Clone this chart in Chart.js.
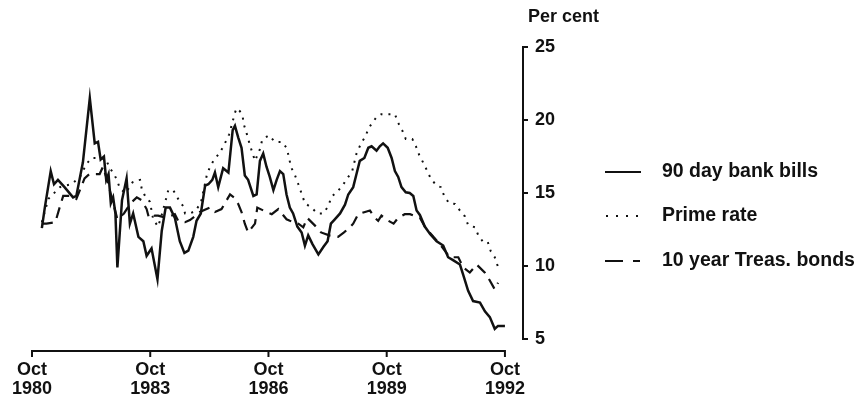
<!DOCTYPE html>
<html>
<head>
<title>Interest rates 1980-1992</title>
<script src="https://cdn.jsdelivr.net/npm/chart.js"></script>
<style>
  body { margin: 0; background: #fff; }
  #wrap { width: 861px; height: 401px; }
</style>
</head>
<body>
<div id="wrap"><canvas id="ratesChart"></canvas></div>
<script>
// months counted from October 1980
const tickMonths = [0, 36, 72, 108, 144];
const tickYears = ['1980', '1983', '1986', '1989', '1992'];
const yTicks = [5, 10, 15, 20, 25];
const seriesNames = ['90 day bank bills', 'Prime rate', '10 year Treas. bonds'];

const billsMonths = [3, 3.9, 5.7, 6.7, 7.9, 9.9, 12.5, 13.5, 15.5, 17.6, 19.1, 20.1, 20.9, 21.9, 22.6, 23.3, 24, 24.7, 25.4, 26,
  27.4, 28.8, 29.8, 30.8, 32.4, 33.9, 34.9, 36.4, 38.2, 39.5, 40.7, 42, 43.5, 45, 46.4, 47.6, 49.1, 50.1, 51.4, 52.7,
  53.7, 54.9, 55.7, 56.7, 58.2, 59.8, 61.1, 61.8, 62.8, 63.8, 64.8, 65.8, 67.4, 68.4, 69.4, 70.4, 71.4, 72.4, 73.5, 74.5,
  75.5, 76.5, 77.5, 78.5, 79.5, 80.8, 82.1, 83.1, 84.1, 85.4, 87.2, 88.7, 90, 91, 92.2, 93.8, 95.3, 96.3, 97.8, 98.8,
  99.8, 101.2, 102.4, 103.4, 104.9, 105.9, 106.9, 108.3, 109.5, 110.5, 111.5, 112.5, 113.8, 115, 116.1, 117.1, 118.1, 119.6, 121.2, 123.2,
  125.2, 126.7, 128.2, 130.3, 131.3, 132.8, 134.3, 136.4, 137.9, 139.4, 140.9, 141.9, 144];
const billsRates = [12.6, 14.0, 16.5, 15.6, 15.9, 15.4, 14.7, 14.8, 17.1, 21.5, 18.4, 18.5, 17.3, 17.5, 15.9, 16.3, 14.3, 14.7, 13.6, 9.9,
  14.5, 16.0, 12.9, 13.6, 12.0, 11.7, 10.7, 11.2, 9.1, 12.4, 14.0, 14.0, 13.3, 11.7, 10.9, 11.05, 12.0, 13.1, 13.6, 15.5,
  15.6, 15.9, 16.4, 15.4, 16.7, 16.4, 19.3, 19.6, 18.8, 18.1, 16.2, 15.9, 14.8, 14.9, 17.2, 17.7, 16.8, 16.1, 15.2, 15.9,
  16.5, 16.3, 14.9, 14.0, 13.6, 12.7, 12.3, 11.4, 12.1, 11.5, 10.8, 11.3, 11.7, 12.9, 13.2, 13.6, 14.2, 14.9, 15.4, 16.3,
  17.2, 17.4, 18.1, 18.2, 17.9, 18.2, 18.4, 18.1, 17.4, 16.5, 16.1, 15.4, 15.05, 15.0, 14.8, 13.8, 13.5, 12.7, 12.2, 11.7,
  11.4, 10.6, 10.4, 10.1, 9.4, 8.3, 7.6, 7.5, 6.9, 6.5, 5.7, 5.9, 5.9];

const primeMonths = [3, 5, 8.5, 10, 12, 14.6, 16.6, 18.2, 20.5, 22.5, 23.7, 25, 26, 26.8, 28.5, 30.8, 32.9, 33.4, 34.4, 35.9,
  36.9, 38.4, 39.5, 40.7, 41.5, 43, 44.5, 46, 46.6, 48, 49.6, 51.4, 53.2, 54.2, 55.5, 57, 58.3, 60, 61.1, 61.8,
  62.3, 63.3, 64.1, 64.5, 65.4, 66.2, 66.9, 67.9, 69.4, 70.1, 72.1, 74, 76, 77.5, 78.3, 78.8, 80.1, 81.1, 82.1, 83.1,
  85.1, 86.9, 88.7, 90.2, 91.2, 92.8, 94.5, 96, 97.5, 98.8, 100.2, 101.6, 102.4, 103.6, 104.9, 106.4, 108.5, 110.5, 111.5, 112.7,
  113.8, 115.8, 116.9, 117.9, 119.3, 121.4, 123.2, 124.5, 125.5, 127, 128.8, 130.3, 131.8, 132.8, 134.9, 135.9, 137.2, 138.7, 139.7, 140.9,
  141.8];
const primeRates = [13.0, 14.6, 15.4, 15.5, 15.6, 16.1, 17.0, 17.4, 17.4, 17.3, 16.7, 16.3, 15.8, 15.3, 15.0, 15.8, 15.9, 15.3, 14.8, 14.4,
  13.2, 12.7, 13.5, 14.5, 15.2, 15.2, 14.6, 14.1, 13.6, 13.6, 13.75, 14.3, 16.2, 16.8, 17.3, 17.7, 18.2, 19.0, 19.9, 20.5,
  20.8, 20.6, 20.3, 19.7, 19.05, 18.4, 17.9, 17.2, 18.0, 18.65, 18.95, 18.5, 18.5, 18.1, 17.4, 16.8, 16.2, 15.6, 14.95, 14.3,
  14.0, 13.6, 13.6, 14.1, 14.75, 15.05, 15.5, 16.0, 16.5, 17.7, 18.4, 18.9, 19.4, 19.8, 20.2, 20.4, 20.4, 20.4, 19.8, 19.3,
  18.7, 18.7, 18.2, 17.6, 17.0, 16.0, 15.5, 15.4, 14.8, 14.3, 14.25, 13.8, 13.4, 12.8, 12.65, 12.1, 11.7, 11.7, 11.0, 10.6,
  10.0];

const bondMonths = [3, 4.4, 7.1, 8.4, 9.5, 12, 13.5, 16, 17.5, 19.6, 20.6, 21.6, 23, 24.5, 26, 28, 30, 31.9, 33.4, 34.9,
  35.6, 37.4, 38.4, 41, 43.5, 44.5, 46.6, 48.1, 49.6, 51.1, 54.2, 55.7, 57.7, 60.3, 61.5, 62.8, 63.8, 64.8, 65.8, 67.9,
  68.6, 71.4, 73, 75, 77.5, 78.5, 81.1, 82.6, 83.8, 86.7, 88, 90.5, 93.2, 95, 96.8, 97.8, 99.3, 101.4, 102.9, 104.4,
  105.4, 106.4, 108.5, 110.1, 111.5, 113.5, 115.1, 118.1, 119.6, 122.2, 124.2, 126.2, 127.2, 129.8, 131.3, 133.3, 135.4, 137.9, 138.9, 140.9,
  141.9];
const bondRates = [12.9, 12.9, 13.0, 14.0, 14.8, 14.8, 14.6, 16.0, 16.3, 16.3, 16.3, 16.8, 15.8, 14.5, 13.2, 13.6, 14.3, 14.7, 14.5, 13.9,
  13.3, 13.45, 13.45, 13.3, 13.55, 13.1, 13.0, 13.15, 13.4, 13.7, 14.0, 13.7, 13.9, 14.9, 14.7, 14.25, 13.7, 12.9, 12.3, 12.9,
  14.0, 13.7, 13.55, 13.9, 13.2, 13.1, 12.9, 12.65, 13.3, 12.65, 12.3, 12.1, 12.0, 12.3, 12.65, 12.9, 13.55, 13.7, 13.8, 13.3,
  13.1, 13.45, 13.1, 12.9, 13.3, 13.55, 13.55, 13.3, 12.7, 12.0, 11.5, 10.9, 10.6, 10.6, 9.9, 9.55, 10.1, 9.55, 9.2, 8.4,
  8.85];

const ink = '#111';
const fontFamily = '"Liberation Sans", Arial, sans-serif';

function toPoints(months, rates) {
  return months.map((m, i) => ({ x: m, y: rates[i] }));
}

// small line samples for the legend
function makeSample(kind) {
  const c = document.createElement('canvas');
  c.width = 47;
  c.height = 6;
  const g = c.getContext('2d');
  g.fillStyle = ink;
  if (kind === 'solid') g.fillRect(0, 2, 36, 2);
  if (kind === 'dot') [1, 11, 21, 31].forEach(x => g.fillRect(x, 2, 2, 2));
  if (kind === 'dash') { g.fillRect(0, 2, 18, 2); g.fillRect(28, 2, 7, 2); }
  return c;
}
const samples = [makeSample('solid'), makeSample('dot'), makeSample('dash')];

// axis lines, tick marks and the unit label
const axisLines = {
  id: 'axisLines',
  afterDraw(chart) {
    const { ctx, chartArea } = chart;
    const x = chart.scales.x;
    const y = chart.scales.y;
    const base = chartArea.bottom;
    const ax = chartArea.right;
    ctx.save();
    ctx.strokeStyle = ink;
    ctx.lineWidth = 2;
    ctx.beginPath();
    ctx.moveTo(x.getPixelForValue(tickMonths[0]), base);
    ctx.lineTo(x.getPixelForValue(tickMonths[tickMonths.length - 1]), base);
    tickMonths.forEach(m => {
      const px = x.getPixelForValue(m);
      ctx.moveTo(px, base - 1);
      ctx.lineTo(px, base + 6);
    });
    ctx.moveTo(ax, y.getPixelForValue(yTicks[yTicks.length - 1]));
    ctx.lineTo(ax, y.getPixelForValue(yTicks[0]));
    yTicks.forEach(v => {
      const py = y.getPixelForValue(v);
      ctx.moveTo(ax - 1, py);
      ctx.lineTo(ax + 5, py);
    });
    ctx.stroke();
    ctx.fillStyle = ink;
    ctx.font = 'bold 18px ' + fontFamily;
    ctx.textAlign = 'left';
    ctx.textBaseline = 'middle';
    ctx.fillText('Per cent', ax + 5, y.getPixelForValue(25) - 30);
    ctx.restore();
  }
};

// legend to the right of the value axis
const sideLegend = {
  id: 'sideLegend',
  afterDraw(chart) {
    const { ctx, chartArea } = chart;
    const left = chartArea.right + 82;
    ctx.save();
    ctx.fillStyle = ink;
    ctx.font = 'bold 19.5px ' + fontFamily;
    ctx.textAlign = 'left';
    ctx.textBaseline = 'middle';
    seriesNames.forEach((name, i) => {
      const cy = chartArea.top + 124.5 + i * 44.5;
      ctx.drawImage(samples[i], left, Math.round(cy) - 3);
      ctx.fillText(name, left + 57, cy);
    });
    ctx.restore();
  }
};

Chart.defaults.color = ink;
Chart.defaults.font.family = fontFamily;

new Chart(document.getElementById('ratesChart'), {
  type: 'line',
  data: {
    datasets: [
      {
        label: seriesNames[0],
        data: toPoints(billsMonths, billsRates),
        borderColor: ink,
        borderWidth: 2.5
      },
      {
        label: seriesNames[1],
        data: toPoints(primeMonths, primeRates),
        borderColor: ink,
        borderWidth: 2,
        borderDash: [2, 6]
      },
      {
        label: seriesNames[2],
        data: toPoints(bondMonths, bondRates),
        borderColor: ink,
        borderWidth: 2.2,
        borderDash: [11, 7]
      }
    ]
  },
  options: {
    responsive: true,
    maintainAspectRatio: false,
    animation: false,
    layout: { padding: { left: 32, top: 47, right: 282, bottom: 0 } },
    elements: {
      point: { radius: 0 },
      line: { tension: 0, fill: false }
    },
    scales: {
      x: {
        type: 'linear',
        min: 0,
        max: 149.5,
        grid: { display: false, drawTicks: false },
        border: { display: false },
        afterBuildTicks: scale => { scale.ticks = tickMonths.map(v => ({ value: v })); },
        afterFit: scale => { scale.height = 50; },
        ticks: {
          autoSkip: false,
          maxRotation: 0,
          padding: 9,
          font: { size: 18, weight: 'bold', lineHeight: 1.08 },
          callback: (value, index) => ['Oct', tickYears[index]]
        }
      },
      y: {
        position: 'right',
        min: 4.18,
        max: 25,
        grid: { display: false, drawTicks: false },
        border: { display: false },
        afterBuildTicks: scale => { scale.ticks = yTicks.map(v => ({ value: v })); },
        afterFit: scale => { scale.width = 56; },
        ticks: {
          padding: 12,
          font: { size: 18, weight: 'bold' }
        }
      }
    },
    plugins: {
      tooltip: { enabled: false },
      legend: { display: false }
    }
  },
  plugins: [axisLines, sideLegend]
});
</script>
</body>
</html>
